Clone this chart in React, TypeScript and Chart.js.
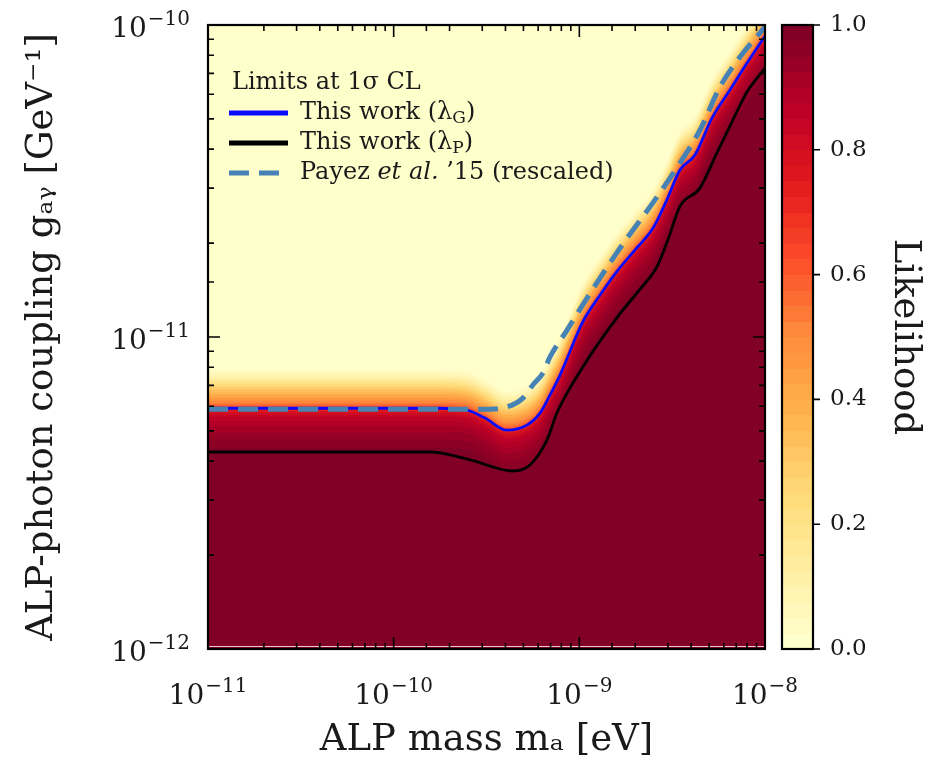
import React, { useEffect, useRef } from 'react';
import { Chart, registerables } from 'chart.js';

Chart.register(...registerables);

// ---------------- Data ----------------
const massRange = [1e-11, 1e-8]; // ALP mass m_a [eV]
const couplingRange = [1e-12, 1e-10]; // g_aγ [GeV^-1]

// 1σ limit, this work (λG)
const lambdaGMass = [1e-11, 1.77e-10, 2.48e-10, 3.1e-10, 4.07e-10, 5.22e-10, 6.14e-10, 6.95e-10, 7.87e-10, 1.045e-9, 1.29e-9, 1.59e-9, 1.99e-9, 2.49e-9, 2.96e-9, 3.48e-9, 4.19e-9, 5.18e-9, 6.47e-9, 8.0e-9, 1e-8];
const lambdaGCoupling = [5.91e-12, 5.91e-12, 5.83e-12, 5.5e-12, 5.03e-12, 5.22e-12, 5.7e-12, 6.52e-12, 7.55e-12, 1.12e-11, 1.36e-11, 1.62e-11, 1.9e-11, 2.23e-11, 2.75e-11, 3.43e-11, 3.83e-11, 5.03e-11, 6.19e-11, 7.55e-11, 9.22e-11];

// 1σ limit, this work (λP)
const lambdaPMass = [1e-11, 1.57e-10, 2.58e-10, 4.39e-10, 5.42e-10, 6.7e-10, 7.57e-10, 1.045e-9, 1.66e-9, 2.12e-9, 2.62e-9, 3.0e-9, 3.48e-9, 4.46e-9, 5.51e-9, 6.64e-9, 8.0e-9, 1e-8];
const lambdaPCoupling = [4.28e-12, 4.28e-12, 4.04e-12, 3.72e-12, 3.89e-12, 4.68e-12, 5.7e-12, 8.02e-12, 1.19e-11, 1.42e-11, 1.68e-11, 2.05e-11, 2.62e-11, 3.0e-11, 3.89e-11, 4.89e-11, 6.1e-11, 7.28e-11];

// Payez et al. '15 (rescaled)
const payezMass = [1e-11, 3.3e-10, 4.34e-10, 4.97e-10, 5.62e-10, 6.37e-10, 6.95e-10, 8.57e-10, 1.045e-9, 1.59e-9, 2.72e-9, 3.48e-9, 4.46e-9, 5.71e-9, 7.14e-9, 1e-8];
const payezCoupling = [5.87e-12, 5.87e-12, 6.05e-12, 6.37e-12, 7.02e-12, 7.67e-12, 8.63e-12, 1.05e-11, 1.27e-11, 1.86e-11, 2.9e-11, 3.61e-11, 4.6e-11, 6.32e-11, 7.73e-11, 9.86e-11];

// Likelihood across the λG boundary: offset in decades of g_aγ (positive = above) vs likelihood
const likelihoodOffset = [-0.16, -0.12, -0.07, -0.03, -0.01, 0, 0.01, 0.026, 0.05, 0.074, 0.096, 0.12, 0.14];
const likelihoodValue = [1.0, 0.97, 0.92, 0.86, 0.78, 0.66, 0.57, 0.48, 0.36, 0.24, 0.12, 0.03, 0.0];

// Colour bar
const colorbarTicks = [0, 0.2, 0.4, 0.6, 0.8, 1.0];
const colorLevels = 40;

// Text
const seriesLabels = ['This work (λG)', 'This work (λP)', 'Payez et al. ’15 (rescaled)'];
const legendTitle = 'Limits at 1σ CL';
const xTitle = 'ALP mass mₐ [eV]';
const yTitle = 'ALP-photon coupling gₐᵧ [GeV⁻¹]';
const cbTitle = 'Likelihood';

// YlOrRd colour map stops
const ylOrRd = ['#ffffcc', '#ffeda0', '#fed976', '#feb24c', '#fd8d3c', '#fc4e2a', '#e31a1c', '#bd0026', '#800026'];

// ---------------- helpers ----------------
const FONT = "'DejaVu Serif', serif";
const TEXT = '#1a1a1a';
const PLOT_TOP = 25;

function hexRgb(h: string) {
  const n = parseInt(h.slice(1), 16);
  return [(n >> 16) & 255, (n >> 8) & 255, n & 255];
}
const stopRgb = ylOrRd.map(hexRgb);
function cmap(t: number) {
  t = Math.max(0, Math.min(1, t));
  const n = stopRgb.length - 1;
  const f = t * n;
  const i = Math.min(n - 1, Math.floor(f));
  const u = f - i;
  const a = stopRgb[i], b = stopRgb[i + 1];
  const c = a.map((v, k) => Math.round(v + (b[k] - v) * u));
  return `rgb(${c[0]},${c[1]},${c[2]})`;
}
const palette = Array.from({ length: colorLevels }, (_, k) => cmap(k / (colorLevels - 1)));

function monotoneTangents(xs: number[], ys: number[]) {
  const n = xs.length;
  const d: number[] = [];
  for (let i = 0; i < n - 1; i++) d.push((ys[i + 1] - ys[i]) / (xs[i + 1] - xs[i]));
  const m: number[] = new Array(n).fill(0);
  for (let i = 0; i < n; i++) {
    if (i === 0) m[i] = d[0];
    else if (i === n - 1) m[i] = d[n - 2];
    else if (Math.sign(d[i - 1]) !== Math.sign(d[i])) m[i] = 0;
    else m[i] = (d[i - 1] + d[i]) / 2;
  }
  for (let i = 0; i < n - 1; i++) {
    if (Math.abs(d[i]) < 1e-12) { m[i] = 0; m[i + 1] = 0; continue; }
    const a = m[i] / d[i], b = m[i + 1] / d[i];
    const s = a * a + b * b;
    if (s > 9) { const t = 3 / Math.sqrt(s); m[i] = a * t * d[i]; m[i + 1] = b * t * d[i]; }
  }
  return m;
}
function hermite(xs: number[], ys: number[], ms: number[], x: number) {
  const n = xs.length;
  if (x <= xs[0]) return ys[0];
  if (x >= xs[n - 1]) return ys[n - 1];
  let i = 0;
  while (i < n - 2 && x > xs[i + 1]) i++;
  const h = xs[i + 1] - xs[i];
  const t = (x - xs[i]) / h, t2 = t * t, t3 = t2 * t;
  return (2 * t3 - 3 * t2 + 1) * ys[i] + (t3 - 2 * t2 + t) * h * ms[i] + (-2 * t3 + 3 * t2) * ys[i + 1] + (t3 - t2) * h * ms[i + 1];
}
function interp(xs: number[], ys: number[], x: number) {
  if (x <= xs[0]) return ys[0];
  if (x >= xs[xs.length - 1]) return ys[ys.length - 1];
  let i = 0;
  while (x > xs[i + 1]) i++;
  const u = (x - xs[i]) / (xs[i + 1] - xs[i]);
  return ys[i] + (ys[i + 1] - ys[i]) * u;
}
function isDecade(v: number) {
  const e = Math.log10(v);
  return Math.abs(e - Math.round(e)) < 1e-6;
}
const SUP: Record<string, string> = { '-': '⁻', '0': '⁰', '1': '¹', '2': '²', '3': '³', '4': '⁴', '5': '⁵', '6': '⁶', '7': '⁷', '8': '⁸', '9': '⁹' };
function decadeLabel(v: number) {
  if (!isDecade(v)) return '';
  const r = Math.round(Math.log10(v));
  return '10' + String(r).split('').map((c) => SUP[c]).join('');
}

const toPoints = (xs: number[], ys: number[]) => xs.map((x, i) => ({ x, y: ys[i] }));

const BASE_SIZE = 28;
const EXP_SIZE = 20;
function powerWidth(ctx: CanvasRenderingContext2D, e: number) {
  ctx.font = `${BASE_SIZE}px ${FONT}`;
  const wb = ctx.measureText('10').width;
  ctx.font = `${EXP_SIZE}px ${FONT}`;
  const we = ctx.measureText('−' + Math.abs(e)).width;
  return { wb, we, total: wb + 1 + we };
}
function drawPower(ctx: CanvasRenderingContext2D, e: number, x: number, baseline: number) {
  const { wb } = powerWidth(ctx, e);
  ctx.font = `${BASE_SIZE}px ${FONT}`;
  ctx.fillText('10', x, baseline);
  ctx.font = `${EXP_SIZE}px ${FONT}`;
  ctx.fillText((e < 0 ? '−' : '') + Math.abs(e), x + wb + 1, baseline - 12);
}

// ---------------- plugins ----------------
const blueLx = lambdaGMass.map(Math.log10);
const blueLy = lambdaGCoupling.map(Math.log10);
const blueM = monotoneTangents(blueLx, blueLy);

const heatmapPlugin = {
  id: 'likelihoodMap',
  beforeDatasetsDraw(chart: any) {
    const { ctx, chartArea: a, scales } = chart;
    const xs = scales.x, ys = scales.y;
    const top = Math.floor(a.top), bottom = Math.ceil(a.bottom);
    const left = Math.floor(a.left), right = Math.ceil(a.right);
    const rowLg: number[] = [];
    for (let py = top; py < bottom; py++) rowLg.push(Math.log10(ys.getValueForPixel(py + 0.5)));
    ctx.save();
    ctx.beginPath();
    ctx.rect(a.left, a.top, a.right - a.left, a.bottom - a.top);
    ctx.clip();
    for (let px = left; px < right; px++) {
      const lm = Math.log10(xs.getValueForPixel(px + 0.5));
      const b = hermite(blueLx, blueLy, blueM, lm);
      let runStart = top, runK = -1;
      for (let j = 0; j <= rowLg.length; j++) {
        let k = -2;
        if (j < rowLg.length) {
          const L = interp(likelihoodOffset, likelihoodValue, rowLg[j] - b);
          k = Math.min(colorLevels - 1, Math.floor(L * colorLevels));
        }
        if (k !== runK) {
          if (runK >= 0) {
            ctx.fillStyle = palette[runK];
            ctx.fillRect(px, runStart, 1, top + j - runStart);
          }
          runK = k;
          runStart = top + j;
        }
      }
    }
    ctx.restore();
  },
};

const framePlugin = {
  id: 'frameTicks',
  afterDatasetsDraw(chart: any) {
    const { ctx, chartArea: a, scales } = chart;
    ctx.save();
    // faint light line along the bottom edge
    ctx.strokeStyle = 'rgba(255,235,240,0.85)';
    ctx.lineWidth = 1.2;
    ctx.beginPath();
    ctx.moveTo(a.left, a.bottom - 2.5);
    ctx.lineTo(a.right, a.bottom - 2.5);
    ctx.stroke();

    ctx.strokeStyle = '#000';
    ctx.lineWidth = 1.6;
    ctx.beginPath();
    for (const t of scales.x.ticks) {
      const p = scales.x.getPixelForValue(t.value);
      if (p < a.left - 0.5 || p > a.right + 0.5) continue;
      const len = isDecade(t.value) ? 12 : 6;
      ctx.moveTo(p, a.bottom); ctx.lineTo(p, a.bottom - len);
      ctx.moveTo(p, a.top); ctx.lineTo(p, a.top + len);
    }
    for (const t of scales.y.ticks) {
      const p = scales.y.getPixelForValue(t.value);
      if (p < a.top - 0.5 || p > a.bottom + 0.5) continue;
      const len = isDecade(t.value) ? 12 : 6;
      ctx.moveTo(a.left, p); ctx.lineTo(a.left + len, p);
      ctx.moveTo(a.right, p); ctx.lineTo(a.right - len, p);
    }
    ctx.stroke();
    ctx.lineWidth = 2.2;
    ctx.strokeRect(a.left, a.top, a.right - a.left, a.bottom - a.top);

    // decade tick labels with raised exponents
    ctx.fillStyle = TEXT;
    ctx.textAlign = 'left';
    ctx.textBaseline = 'alphabetic';
    for (const t of scales.x.ticks) {
      if (!isDecade(t.value)) continue;
      const e = Math.round(Math.log10(t.value));
      const p = scales.x.getPixelForValue(t.value);
      const { total } = powerWidth(ctx, e);
      drawPower(ctx, e, p - total / 2, a.bottom + 55);
    }
    for (const t of scales.y.ticks) {
      if (!isDecade(t.value)) continue;
      const e = Math.round(Math.log10(t.value));
      const p = scales.y.getPixelForValue(t.value);
      const { total } = powerWidth(ctx, e);
      drawPower(ctx, e, a.left - 18 - total, p + 12);
    }

    // colour bar
    const cb = scales.cb;
    const x0 = a.right + 17, x1 = a.right + 48;
    for (let k = 0; k < colorLevels; k++) {
      const yTop = cb.getPixelForValue((k + 1) / colorLevels);
      const yBot = cb.getPixelForValue(k / colorLevels);
      ctx.fillStyle = palette[k];
      ctx.fillRect(x0, Math.floor(yTop), x1 - x0, Math.ceil(yBot) - Math.floor(yTop));
    }
    ctx.strokeStyle = '#000';
    ctx.lineWidth = 2.2;
    ctx.strokeRect(x0, cb.getPixelForValue(1), x1 - x0, cb.getPixelForValue(0) - cb.getPixelForValue(1));
    ctx.lineWidth = 1.6;
    ctx.beginPath();
    for (const v of colorbarTicks) {
      const p = cb.getPixelForValue(v);
      ctx.moveTo(x1, p); ctx.lineTo(x1 + 7, p);
    }
    ctx.stroke();
    ctx.restore();
  },
};

type Seg = { t: string; sub?: boolean; italic?: boolean };
const legendSegments: Seg[][] = [
  [{ t: 'This work (λ' }, { t: 'G', sub: true }, { t: ')' }],
  [{ t: 'This work (λ' }, { t: 'P', sub: true }, { t: ')' }],
  [{ t: 'Payez ' }, { t: 'et al.', italic: true }, { t: ' ’15 (rescaled)' }],
];

const legendPlugin = {
  id: 'insideLegend',
  afterDraw(chart: any) {
    const { ctx, chartArea: a } = chart;
    const ds = chart.data.datasets;
    ctx.save();
    ctx.fillStyle = TEXT;
    ctx.textBaseline = 'middle';
    ctx.textAlign = 'left';
    ctx.font = `24px ${FONT}`;
    ctx.fillText(legendTitle, a.left + 24, a.top + 58);
    const dsIndex = [1, 2, 0];
    for (let r = 0; r < 3; r++) {
      const d = ds[dsIndex[r]];
      const y = a.top + 88 + r * 30;
      ctx.save();
      ctx.strokeStyle = d.borderColor;
      ctx.lineWidth = 5;
      ctx.setLineDash(d.borderDash || []);
      ctx.beginPath();
      ctx.moveTo(a.left + 21, y);
      ctx.lineTo(a.left + 80, y);
      ctx.stroke();
      ctx.restore();
      let x = a.left + 92;
      for (const s of legendSegments[r]) {
        ctx.font = `${s.italic ? 'italic ' : ''}${s.sub ? 17 : 24}px ${FONT}`;
        ctx.fillText(s.t, x, y + (s.sub ? 6 : 0));
        x += ctx.measureText(s.t).width;
      }
    }
    ctx.restore();
  },
};

// ---------------- component ----------------
export default function App() {
  const ref = useRef<HTMLCanvasElement | null>(null);
  useEffect(() => {
    document.body.style.margin = '0';
    const canvas = ref.current;
    if (!canvas) return;
    const titleFont = { family: FONT, size: 37 };
    const options: any = {
      responsive: false,
      animation: false,
      events: [],
      layout: { autoPadding: false, padding: { top: PLOT_TOP, left: 0, right: 0, bottom: 0 } },
      plugins: { legend: { display: false }, tooltip: { enabled: false }, title: { display: false } },
      scales: {
        x: {
          type: 'logarithmic',
          position: 'bottom',
          min: massRange[0],
          max: massRange[1],
          grid: { display: false, drawTicks: false },
          border: { display: false },
          ticks: { display: false, autoSkip: false, callback: (v: any) => decadeLabel(Number(v)) },
          title: { display: true, text: xTitle, color: TEXT, font: titleFont, padding: { top: 0, bottom: 2 } },
          afterFit: (s: any) => { s.height = 116; },
        },
        y: {
          type: 'logarithmic',
          position: 'left',
          min: couplingRange[0],
          max: couplingRange[1],
          grid: { display: false, drawTicks: false },
          border: { display: false },
          ticks: { display: false, autoSkip: false, callback: (v: any) => decadeLabel(Number(v)) },
          title: { display: true, text: yTitle, color: TEXT, font: titleFont, padding: { top: 20, bottom: 0 } },
          afterFit: (s: any) => { s.width = 208; },
        },
        cb: {
          type: 'linear',
          position: 'right',
          min: 0,
          max: 1,
          // invisible tick length only offsets the labels past the colour bar
          grid: { display: false, drawTicks: true, tickLength: 62 },
          border: { display: false },
          ticks: {
            stepSize: 0.2,
            padding: 3,
            color: TEXT,
            font: { family: FONT, size: 23 },
            callback: (v: any) => Number(v).toFixed(1),
          },
          title: { display: true, text: cbTitle, color: TEXT, font: titleFont, padding: { top: 11, bottom: 0 } },
          afterFit: (s: any) => { s.width = 173; },
        },
      },
    };
    const chart = new Chart(canvas, {
      type: 'line',
      data: {
        datasets: [
          {
            label: seriesLabels[2],
            data: toPoints(payezMass, payezCoupling),
            borderColor: '#4682b4',
            borderWidth: 5,
            borderDash: [20, 10],
            pointRadius: 0,
            cubicInterpolationMode: 'monotone',
            order: 0,
          },
          {
            label: seriesLabels[0],
            data: toPoints(lambdaGMass, lambdaGCoupling),
            borderColor: '#0a0aff',
            borderWidth: 2.8,
            pointRadius: 0,
            cubicInterpolationMode: 'monotone',
            order: 1,
          },
          {
            label: seriesLabels[1],
            data: toPoints(lambdaPMass, lambdaPCoupling),
            borderColor: '#000000',
            borderWidth: 2.8,
            pointRadius: 0,
            cubicInterpolationMode: 'monotone',
            order: 2,
          },
        ],
      },
      options,
      plugins: [heatmapPlugin, framePlugin, legendPlugin],
    });
    for (let i = 0; i < 4; i++) {
      const diff = chart.chartArea.top - PLOT_TOP;
      if (Math.abs(diff) < 0.5) break;
      options.layout.padding.top -= diff;
      chart.update();
    }
    return () => chart.destroy();
  }, []);
  return (
    <div style={{ width: 938, height: 765, background: '#fff' }}>
      <canvas ref={ref} width={938} height={765} style={{ display: 'block' }} />
    </div>
  );
}
